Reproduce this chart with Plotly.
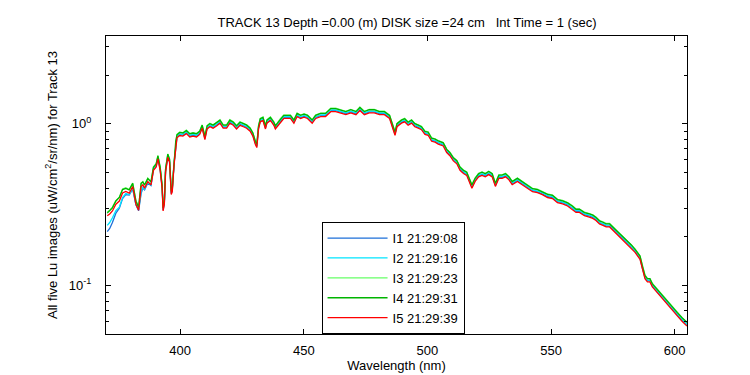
import plotly.graph_objects as go

wavelength = [370.5, 371.5, 372.6, 374.0, 375.4, 376.7, 378.0, 379.4, 380.8, 382.1,
              383.2, 384.2, 384.9, 385.6, 386.9, 388.2, 389.2, 390.3, 391.0, 391.9,
              392.7, 393.1, 393.6, 394.1, 395.0, 395.7, 396.4, 396.8, 397.5, 398.2,
              398.7, 399.8, 401.1, 402.5, 403.9, 405.2, 406.6, 407.9, 408.9, 410.0,
              410.9, 412.0, 413.3, 414.7, 416.1, 417.4, 418.8, 420.1, 421.5, 422.8,
              424.2, 425.6, 426.9, 428.3, 429.4, 430.4, 431.0, 431.7, 432.4, 433.5,
              434.5, 435.1, 436.5, 437.9, 438.5, 439.2, 440.6, 441.9, 443.3, 444.6,
              446.0, 447.3, 448.7, 450.1, 451.5, 453.4, 454.8, 456.8, 458.8, 460.9,
              462.9, 465.0, 467.0, 469.0, 471.1, 472.7, 474.5, 476.5, 478.5, 480.6,
              482.6, 484.7, 486.3, 486.9, 487.7, 489.5, 490.8, 492.2, 493.6, 494.9,
              496.3, 497.6, 499.0, 500.3, 501.7, 503.1, 504.4, 506.4, 507.8, 509.1,
              510.5, 511.9, 513.2, 514.6, 515.9, 517.3, 518.0, 519.3, 520.7, 522.1,
              523.4, 524.8, 526.2, 527.5, 528.9, 530.2, 531.6, 533.0, 534.3, 536.4,
              538.4, 540.4, 542.5, 544.5, 546.5, 548.6, 550.6, 552.6, 554.7, 556.7,
              558.7, 560.1, 561.5, 563.5, 565.5, 566.9, 568.2, 569.6, 571.0, 572.3,
              573.7, 575.0, 577.1, 579.1, 581.1, 582.5, 584.0, 586.0, 587.0, 588.0,
              589.0, 590.0, 591.0, 593.0, 595.0, 597.0, 599.0, 601.0, 603.0, 605.0]

lu_i1 = [0.215, 0.225, 0.245, 0.280, 0.300, 0.345, 0.365, 0.362, 0.395, 0.315,
         0.290, 0.370, 0.400, 0.390, 0.430, 0.415, 0.524, 0.549, 0.616, 0.524,
         0.406, 0.293, 0.323, 0.512, 0.630, 0.588, 0.370, 0.386, 0.561, 0.758,
         0.831, 0.860, 0.853, 0.883, 0.842, 0.853, 0.842, 0.873, 0.954, 0.812,
         0.944, 0.974, 0.954, 0.985, 1.025, 0.954, 0.954, 1.025, 0.995, 0.944,
         0.995, 0.974, 0.954, 0.914, 0.853, 0.758, 0.724, 0.944, 1.045, 1.066,
         0.944, 1.025, 1.066, 0.995, 0.944, 0.974, 1.045, 1.096, 1.096, 1.096,
         1.025, 1.127, 1.096, 1.117, 1.096, 1.025, 1.096, 1.127, 1.127, 1.208,
         1.208, 1.188, 1.157, 1.188, 1.157, 1.228, 1.157, 1.188, 1.188, 1.157,
         1.157, 1.096, 0.934, 0.863, 0.974, 1.025, 1.045, 0.995, 1.025, 0.974,
         0.954, 0.934, 0.873, 0.863, 0.792, 0.782, 0.761, 0.741, 0.675, 0.645,
         0.599, 0.574, 0.524, 0.500, 0.487, 0.435, 0.406, 0.447, 0.477, 0.487,
         0.477, 0.492, 0.477, 0.416, 0.467, 0.467, 0.477, 0.457, 0.426, 0.447,
         0.426, 0.406, 0.386, 0.381, 0.370, 0.355, 0.350, 0.330, 0.325, 0.315,
         0.300, 0.287, 0.287, 0.274, 0.269, 0.264, 0.256, 0.244, 0.239, 0.233,
         0.233, 0.223, 0.208, 0.193, 0.181, 0.173, 0.162, 0.147, 0.127, 0.112,
         0.107, 0.107, 0.099, 0.091, 0.084, 0.077, 0.071, 0.066, 0.061, 0.057]

lu_i2 = [0.235, 0.245, 0.262, 0.290, 0.305, 0.350, 0.370, 0.365, 0.400, 0.318,
         0.295, 0.380, 0.405, 0.395, 0.435, 0.420, 0.529, 0.555, 0.622, 0.529,
         0.410, 0.296, 0.326, 0.517, 0.637, 0.593, 0.374, 0.390, 0.567, 0.766,
         0.839, 0.868, 0.861, 0.892, 0.851, 0.861, 0.851, 0.882, 0.964, 0.820,
         0.953, 0.984, 0.964, 0.994, 1.035, 0.964, 0.964, 1.035, 1.005, 0.953,
         1.005, 0.984, 0.964, 0.923, 0.861, 0.766, 0.731, 0.953, 1.056, 1.076,
         0.953, 1.035, 1.076, 1.005, 0.953, 0.984, 1.056, 1.107, 1.107, 1.107,
         1.035, 1.138, 1.107, 1.128, 1.107, 1.035, 1.107, 1.138, 1.138, 1.220,
         1.220, 1.199, 1.169, 1.199, 1.169, 1.240, 1.169, 1.199, 1.199, 1.169,
         1.169, 1.107, 0.943, 0.871, 0.984, 1.035, 1.056, 1.005, 1.035, 0.984,
         0.964, 0.943, 0.882, 0.871, 0.800, 0.789, 0.769, 0.748, 0.682, 0.651,
         0.605, 0.580, 0.529, 0.505, 0.492, 0.440, 0.410, 0.451, 0.482, 0.492,
         0.482, 0.497, 0.482, 0.420, 0.472, 0.472, 0.482, 0.461, 0.431, 0.451,
         0.431, 0.410, 0.390, 0.384, 0.374, 0.359, 0.354, 0.333, 0.328, 0.318,
         0.303, 0.290, 0.290, 0.277, 0.272, 0.267, 0.258, 0.246, 0.241, 0.236,
         0.236, 0.226, 0.210, 0.195, 0.182, 0.174, 0.164, 0.149, 0.128, 0.113,
         0.108, 0.108, 0.100, 0.092, 0.085, 0.078, 0.072, 0.067, 0.062, 0.057]

lu_i3 = [0.285, 0.292, 0.305, 0.335, 0.352, 0.395, 0.402, 0.392, 0.430, 0.335,
         0.307, 0.430, 0.440, 0.420, 0.461, 0.440, 0.542, 0.568, 0.637, 0.542,
         0.420, 0.303, 0.334, 0.529, 0.652, 0.608, 0.383, 0.399, 0.581, 0.784,
         0.860, 0.889, 0.882, 0.914, 0.872, 0.882, 0.872, 0.903, 0.987, 0.840,
         0.977, 1.008, 0.987, 1.019, 1.061, 0.987, 0.987, 1.061, 1.029, 0.977,
         1.029, 1.008, 0.987, 0.945, 0.882, 0.784, 0.749, 0.977, 1.082, 1.103,
         0.977, 1.061, 1.103, 1.029, 0.977, 1.008, 1.082, 1.134, 1.134, 1.134,
         1.061, 1.166, 1.134, 1.155, 1.134, 1.061, 1.134, 1.166, 1.166, 1.250,
         1.250, 1.229, 1.197, 1.229, 1.197, 1.271, 1.197, 1.229, 1.229, 1.197,
         1.197, 1.134, 0.966, 0.893, 1.008, 1.061, 1.082, 1.029, 1.061, 1.008,
         0.987, 0.966, 0.903, 0.893, 0.819, 0.809, 0.788, 0.767, 0.698, 0.667,
         0.620, 0.594, 0.542, 0.518, 0.504, 0.450, 0.420, 0.462, 0.494, 0.504,
         0.494, 0.509, 0.494, 0.431, 0.483, 0.483, 0.494, 0.473, 0.441, 0.462,
         0.441, 0.420, 0.399, 0.394, 0.383, 0.368, 0.362, 0.341, 0.336, 0.326,
         0.311, 0.297, 0.297, 0.284, 0.278, 0.273, 0.265, 0.252, 0.247, 0.242,
         0.242, 0.231, 0.215, 0.200, 0.187, 0.179, 0.168, 0.152, 0.131, 0.116,
         0.110, 0.110, 0.103, 0.095, 0.087, 0.080, 0.074, 0.068, 0.063, 0.059]

lu_i4 = [0.280, 0.290, 0.302, 0.333, 0.350, 0.392, 0.398, 0.390, 0.428, 0.332,
         0.305, 0.428, 0.437, 0.418, 0.458, 0.437, 0.539, 0.565, 0.634, 0.539,
         0.418, 0.302, 0.332, 0.527, 0.649, 0.605, 0.381, 0.397, 0.578, 0.781,
         0.856, 0.885, 0.878, 0.909, 0.867, 0.878, 0.867, 0.899, 0.982, 0.836,
         0.972, 1.003, 0.982, 1.014, 1.055, 0.982, 0.982, 1.055, 1.024, 0.972,
         1.024, 1.003, 0.982, 0.941, 0.878, 0.781, 0.745, 0.972, 1.076, 1.097,
         0.972, 1.055, 1.097, 1.024, 0.972, 1.003, 1.076, 1.129, 1.129, 1.129,
         1.055, 1.160, 1.129, 1.150, 1.129, 1.055, 1.129, 1.160, 1.160, 1.244,
         1.244, 1.223, 1.191, 1.223, 1.191, 1.264, 1.191, 1.223, 1.223, 1.191,
         1.191, 1.129, 0.961, 0.888, 1.003, 1.055, 1.076, 1.024, 1.055, 1.003,
         0.982, 0.961, 0.899, 0.888, 0.815, 0.805, 0.784, 0.763, 0.695, 0.664,
         0.617, 0.591, 0.539, 0.515, 0.502, 0.448, 0.418, 0.460, 0.491, 0.502,
         0.491, 0.507, 0.491, 0.428, 0.481, 0.481, 0.491, 0.470, 0.439, 0.460,
         0.439, 0.418, 0.397, 0.392, 0.381, 0.366, 0.361, 0.340, 0.334, 0.324,
         0.309, 0.296, 0.296, 0.282, 0.277, 0.272, 0.263, 0.251, 0.246, 0.240,
         0.240, 0.230, 0.214, 0.199, 0.186, 0.178, 0.167, 0.152, 0.131, 0.115,
         0.110, 0.110, 0.102, 0.094, 0.087, 0.079, 0.073, 0.068, 0.063, 0.059]

lu_i5 = [0.270, 0.277, 0.289, 0.318, 0.333, 0.373, 0.382, 0.373, 0.409, 0.318,
         0.292, 0.409, 0.419, 0.400, 0.439, 0.419, 0.516, 0.541, 0.607, 0.516,
         0.400, 0.289, 0.318, 0.504, 0.621, 0.579, 0.365, 0.380, 0.553, 0.747,
         0.819, 0.847, 0.840, 0.870, 0.830, 0.840, 0.830, 0.860, 0.940, 0.800,
         0.930, 0.960, 0.940, 0.970, 1.010, 0.940, 0.940, 1.010, 0.980, 0.930,
         0.980, 0.960, 0.940, 0.900, 0.840, 0.747, 0.713, 0.930, 1.030, 1.050,
         0.930, 1.010, 1.050, 0.980, 0.930, 0.960, 1.030, 1.080, 1.080, 1.080,
         1.010, 1.110, 1.080, 1.100, 1.080, 1.010, 1.080, 1.110, 1.110, 1.190,
         1.190, 1.170, 1.140, 1.170, 1.140, 1.210, 1.140, 1.170, 1.170, 1.140,
         1.140, 1.080, 0.920, 0.850, 0.960, 1.010, 1.030, 0.980, 1.010, 0.960,
         0.940, 0.920, 0.860, 0.850, 0.780, 0.770, 0.750, 0.730, 0.665, 0.635,
         0.590, 0.566, 0.516, 0.493, 0.480, 0.429, 0.400, 0.440, 0.470, 0.480,
         0.470, 0.485, 0.470, 0.410, 0.460, 0.460, 0.470, 0.450, 0.420, 0.440,
         0.420, 0.400, 0.380, 0.375, 0.365, 0.350, 0.345, 0.325, 0.320, 0.310,
         0.296, 0.283, 0.283, 0.270, 0.265, 0.260, 0.252, 0.240, 0.235, 0.230,
         0.230, 0.220, 0.205, 0.190, 0.178, 0.170, 0.160, 0.145, 0.125, 0.110,
         0.105, 0.105, 0.098, 0.090, 0.083, 0.076, 0.070, 0.065, 0.060, 0.056]

series_names = ["I1 21:29:08", "I2 21:29:16", "I3 21:29:23", "I4 21:29:31", "I5 21:29:39"]
series_values = [lu_i1, lu_i2, lu_i3, lu_i4, lu_i5]
series_colors = ["#1c6fd8", "#00e5ff", "#66ff66", "#00b400", "#ff0000"]

x_ticks = [400, 450, 500, 550, 600]
y_major = [0.1, 1]
y_major_text = ["10<sup>-1</sup>", "10<sup>0</sup>"]
y_minor = [0.06, 0.07, 0.08, 0.09, 0.2, 0.3, 0.4, 0.5, 0.6, 0.7, 0.8, 0.9, 2, 3]
x_range = [370, 605]
y_range = [0.05, 3.5]

FONT = "Liberation Sans, Arial, Helvetica, sans-serif"

fig = go.Figure()
for name, vals, col in zip(series_names, series_values, series_colors):
    fig.add_trace(go.Scatter(x=wavelength, y=vals, mode="lines", name=name,
                             line=dict(color=col, width=1.3)))

import math

fig.update_layout(
    width=750, height=375,
    margin=dict(l=97.5, r=71.25, t=28.1, b=41.25),
    paper_bgcolor="white", plot_bgcolor="white",
    font=dict(family=FONT, size=13, color="black"),
    title=dict(text="TRACK 13 Depth =0.00 (m) DISK size =24 cm\u00a0\u00a0\u00a0Int Time = 1 (sec)",
               x=0.532, xanchor="center", xref="container",
               y=0.962, yanchor="middle", yref="container",
               font=dict(family=FONT, size=13, color="black")),
    showlegend=True,
    legend=dict(x=0.371, y=0.3755, xanchor="left", yanchor="top",
                bgcolor="white", bordercolor="black", borderwidth=1,
                font=dict(family=FONT, size=13, color="black"),
                itemwidth=60),
)

fig.update_xaxes(
    range=x_range, tickvals=x_ticks, ticks="inside", ticklen=5,
    tickcolor="black", showline=True, linecolor="black", linewidth=1,
    mirror="ticks", showgrid=False, zeroline=False, ticklabelstandoff=4,
    title=dict(text="Wavelength (nm)", standoff=4, font=dict(size=13)),
)

fig.update_yaxes(
    type="log", range=[math.log10(y_range[0]), math.log10(y_range[1])],
    tickvals=y_major, ticktext=y_major_text, ticks="inside", ticklen=5,
    tickcolor="black", showline=True, linecolor="black", linewidth=1,
    mirror="ticks", showgrid=False, zeroline=False, ticklabelstandoff=11,
    minor=dict(tickvals=y_minor, ticks="inside", ticklen=3, tickcolor="black", showgrid=False),
    title=dict(text="All five Lu images (uW/cm<sup>2</sup>/sr/nm) for Track 13",
               standoff=8, font=dict(size=13)),
)

fig.write_html("out.html")
